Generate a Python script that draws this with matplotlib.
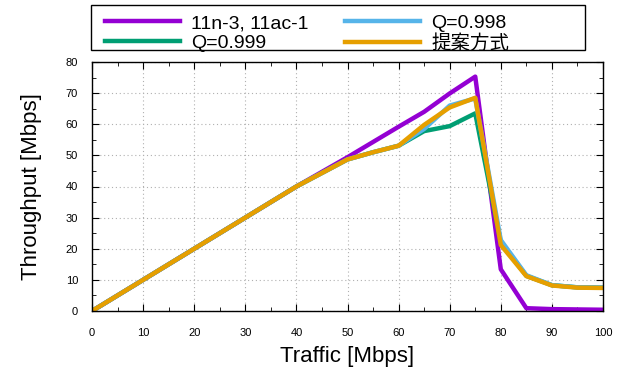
import matplotlib.pyplot as plt
from matplotlib.patches import Rectangle
from matplotlib.ticker import MultipleLocator

plt.rcParams['font.family'] = ['Liberation Sans', 'Noto Sans CJK JP', 'DejaVu Sans']

# traffic [Mbps]
traffic = [0, 10, 20, 30, 40, 50, 55, 60, 65, 70, 75, 80, 85, 90, 95, 100]

# throughput [Mbps]
legacy = [0, 10, 20, 30, 40, 49.4, 54.3, 59.2, 64.0, 69.9, 75.3, 13.4, 0.9, 0.6, 0.5, 0.4]
q999 = [0, 10, 20, 30, 40, 48.7, 51, 53.1, 57.8, 59.4, 63.5, 22.0, 11.3, 8.3, 7.6, 7.5]
q998 = [0, 10, 20, 30, 40, 48.7, 51, 53.1, 58.5, 66.0, 68.3, 22.8, 11.5, 8.3, 7.6, 7.5]
proposed = [0, 10, 20, 30, 40, 48.7, 51, 53.1, 59.8, 65.4, 68.5, 21.2, 11.2, 8.2, 7.5, 7.4]

labels = ['11n-3, 11ac-1', 'Q=0.999', 'Q=0.998', '提案方式']
colors = ['#9400D3', '#009E73', '#56B4E9', '#E69F00']

fig = plt.figure(figsize=(6.22, 3.79), dpi=100)
ax = fig.add_axes([92 / 622, 68 / 379, 511 / 622, 249 / 379])

handles = []
for ys, lab, c in zip([legacy, q999, q998, proposed], labels, colors):
    h, = ax.plot(traffic, ys, color=c, lw=3.2, label=lab)
    handles.append(h)

ax.set_xlim(0, 100)
ax.set_ylim(0, 80)
ax.xaxis.set_major_locator(MultipleLocator(10))
ax.xaxis.set_minor_locator(MultipleLocator(5))
ax.yaxis.set_major_locator(MultipleLocator(10))
ax.yaxis.set_minor_locator(MultipleLocator(5))
ax.tick_params(which='both', direction='in', top=True, right=True, labelsize=8)
ax.tick_params(axis='x', which='major', pad=12)
ax.tick_params(axis='y', which='major', pad=10)
ax.tick_params(which='major', length=5)
ax.tick_params(which='minor', length=3)
ax.grid(True, which='major', ls=(0, (1, 2.5)), color='#b0b0b0', lw=0.8)
for s in ax.spines.values():
    s.set_linewidth(1.0)

ax.set_xlabel('Traffic [Mbps]', fontsize=16, labelpad=6)
ax.set_ylabel('Throughput [Mbps]', fontsize=16, labelpad=17)

# legend box above the plot
fig.patches.append(Rectangle((91 / 622, 1 - 50 / 379), 494 / 622, 45 / 379,
                             transform=fig.transFigure, fill=False,
                             edgecolor='black', lw=1.0))
leg = fig.legend(handles, labels, ncol=2, loc='upper left',
                 bbox_to_anchor=(91 / 622, 1 - 1 / 379), fontsize=14,
                 frameon=False, handlelength=3.9, handletextpad=0.55,
                 labelspacing=0.1, borderpad=0.2, columnspacing=1.85)

fig.savefig('out.png', dpi=100)
